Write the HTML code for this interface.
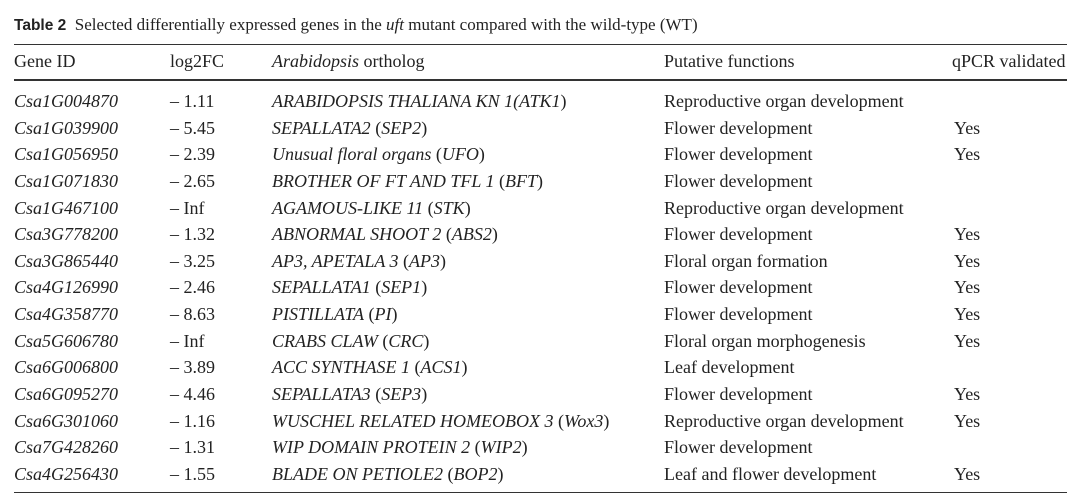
<!DOCTYPE html>
<html><head><meta charset="utf-8"><style>
body{margin:0;width:1080px;height:503px;background:#fff;position:relative;overflow:hidden;font-family:"Liberation Serif",serif;color:#222;}
.t{position:absolute;white-space:nowrap;font-size:18px;line-height:20px;}
.i{font-style:italic}
.rule{position:absolute;left:14px;width:1053px;background:#333;}
</style></head><body>
<div class="t" style="left:14px;top:15px;font-size:17px"><b style="font-family:'Liberation Sans',sans-serif;font-size:15.5px">Table 2</b>&nbsp; Selected differentially expressed genes in the <i>uft</i> mutant compared with the wild-type (WT)</div>
<div class="rule" style="top:44px;height:1px"></div>
<div class="t" style="left:14px;top:51px">Gene ID</div>
<div class="t" style="left:170px;top:51px">log2FC</div>
<div class="t" style="left:272px;top:51px"><i>Arabidopsis</i> ortholog</div>
<div class="t" style="left:664px;top:51px">Putative functions</div>
<div class="t" style="left:952px;top:51px">qPCR validated</div>
<div class="rule" style="top:79px;height:2px"></div>
<div class="rule" style="top:492px;height:1px"></div>
<script>
const ids=["Csa1G004870","Csa1G039900","Csa1G056950","Csa1G071830","Csa1G467100","Csa3G778200","Csa3G865440","Csa4G126990","Csa4G358770","Csa5G606780","Csa6G006800","Csa6G095270","Csa6G301060","Csa7G428260","Csa4G256430"];
const fcs=["\u2013 1.11","\u2013 5.45","\u2013 2.39","\u2013 2.65","\u2013 Inf","\u2013 1.32","\u2013 3.25","\u2013 2.46","\u2013 8.63","\u2013 Inf","\u2013 3.89","\u2013 4.46","\u2013 1.16","\u2013 1.31","\u2013 1.55"];
const orth=["<i>ARABIDOPSIS THALIANA KN 1(ATK1</i>)","<i>SEPALLATA2</i> (<i>SEP2</i>)","<i>Unusual floral organs</i> (<i>UFO</i>)","<i>BROTHER OF FT AND TFL 1</i> (<i>BFT</i>)","<i>AGAMOUS-LIKE 11</i> (<i>STK</i>)","<i>ABNORMAL SHOOT 2</i> (<i>ABS2</i>)","<i>AP3, APETALA 3</i> (<i>AP3</i>)","<i>SEPALLATA1</i> (<i>SEP1</i>)","<i>PISTILLATA</i> (<i>PI</i>)","<i>CRABS CLAW</i> (<i>CRC</i>)","<i>ACC SYNTHASE 1</i> (<i>ACS1</i>)","<i>SEPALLATA3</i> (<i>SEP3</i>)","<i>WUSCHEL RELATED HOMEOBOX 3</i> (<i>Wox3</i>)","<i>WIP DOMAIN PROTEIN 2</i> (<i>WIP2</i>)","<i>BLADE ON PETIOLE2</i> (<i>BOP2</i>)"];
const funcs=["Reproductive organ development","Flower development","Flower development","Flower development","Reproductive organ development","Flower development","Floral organ formation","Flower development","Flower development","Floral organ morphogenesis","Leaf development","Flower development","Reproductive organ development","Flower development","Leaf and flower development"];
const qpcr=["","Yes","Yes","","","Yes","Yes","Yes","Yes","Yes","","Yes","Yes","","Yes"];
const root=document.body;
function cell(x,y,html,cls,name){
  const d=document.createElement('div');
  d.className='t '+(cls||'');
  d.style.left=x+'px';d.style.top=y+'px';
  d.innerHTML=html;
  
  
  root.appendChild(d);
}
for(let r=0;r<ids.length;r++){
  const y=91+r*26.64;
  cell(14,y,ids[r],'i','gene-id-cell');
  cell(170,y,fcs[r],'','log2fc-cell');
  cell(272,y,orth[r],'','ortholog-cell');
  cell(664,y,funcs[r],'','function-cell');
  if(qpcr[r]) cell(954,y,qpcr[r],'','qpcr-cell');
}
</script>
</body></html>
